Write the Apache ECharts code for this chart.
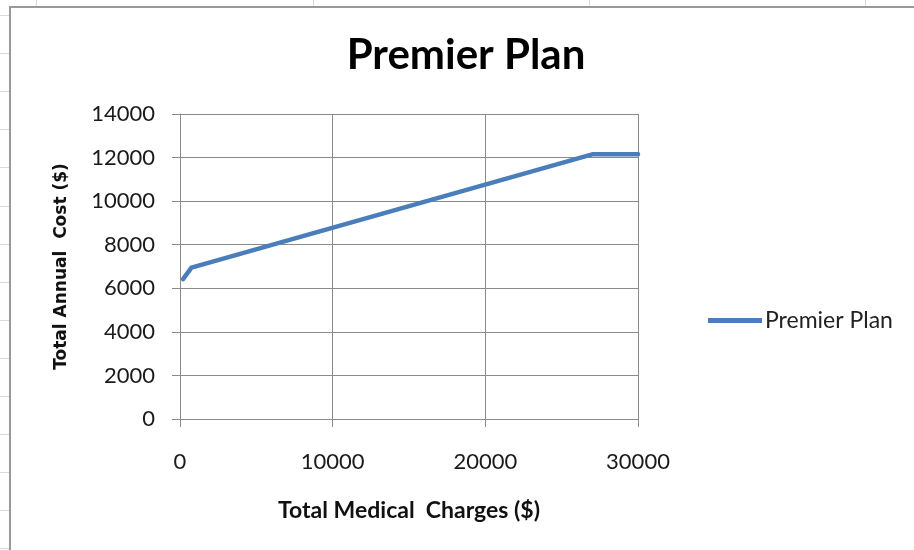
<!DOCTYPE html>
<html>
<head>
<meta charset="utf-8">
<title>Premier Plan</title>
<script src="https://cdn.jsdelivr.net/npm/echarts@6/dist/echarts.min.js"></script>
<style>
  html, body { margin: 0; padding: 0; background: #ffffff; }
  #chart { width: 914px; height: 550px; }
</style>
</head>
<body>
<div id="chart"></div>
<script>
// Total medical charges ($) and the matching total annual cost ($) for the plan
const charges = [200, 750, 27000, 30000];
const annualCost = [6420, 6950, 12150, 12150];

const seriesName = 'Premier Plan';
const chartTitle = 'Premier Plan';
const xTitle = 'Total Medical  Charges ($)';
const yTitle = 'Total Annual  Cost ($)';

const xTicks = { min: 0, max: 30000, interval: 10000 };
const yTicks = { min: 0, max: 14000, interval: 2000 };

const points = charges.map((c, i) => [c, annualCost[i]]);

// worksheet cells around the embedded chart
const sheetLine = '#d4dae6';
const sheetDecor = [];
[36, 313, 589, 865].forEach(x => {
  sheetDecor.push({ type: 'line', shape: { x1: x + 0.5, y1: 0, x2: x + 0.5, y2: 7 }, style: { stroke: sheetLine, lineWidth: 1 }, silent: true });
});
for (let y = 15; y < 550; y += 38.1) {
  const yy = Math.round(y) + 0.5;
  sheetDecor.push({ type: 'line', shape: { x1: 0, y1: yy, x2: 9, y2: yy }, style: { stroke: sheetLine, lineWidth: 1 }, silent: true });
}
// chart frame
sheetDecor.push({ type: 'rect', shape: { x: 10, y: 7, width: 1000, height: 600 }, style: { fill: null, stroke: '#999999', lineWidth: 2 }, silent: true });

const plainNumber = v => String(v);

const chart = echarts.init(document.getElementById('chart'), null, { renderer: 'canvas' });
chart.setOption({
  animation: false,
  backgroundColor: '#ffffff',
  title: {
    text: chartTitle,
    left: 461,
    top: 29,
    textAlign: 'center',
    textStyle: { fontFamily: 'Lato', fontWeight: 'bold', fontSize: 42, color: '#000000' }
  },
  legend: {
    data: [seriesName],
    left: 703,
    top: 304,
    itemWidth: 54,
    itemHeight: 5,
    itemGap: 4,
    icon: 'rect',
    textStyle: { fontFamily: 'Lato', fontSize: 23, color: '#222222', padding: [0, 0, 0, -2] }
  },
  grid: { left: 180, right: 276, top: 114, bottom: 131, containLabel: false },
  xAxis: {
    type: 'value',
    min: xTicks.min, max: xTicks.max, interval: xTicks.interval,
    name: xTitle,
    nameLocation: 'middle',
    nameGap: 80,
    nameTextStyle: { fontFamily: 'Lato', fontWeight: 'bold', fontSize: 23, color: '#111111' },
    axisLine: { show: true, lineStyle: { color: '#8a8a8a', width: 1 } },
    axisTick: { show: true, inside: false, length: 8, lineStyle: { color: '#8a8a8a' } },
    axisLabel: { margin: 32, fontFamily: 'Lato', fontSize: 22, color: '#1a1a1a', formatter: plainNumber },
    splitLine: { show: true, lineStyle: { color: '#8a8a8a', width: 1 } }
  },
  yAxis: {
    type: 'value',
    min: yTicks.min, max: yTicks.max, interval: yTicks.interval,
    name: yTitle,
    nameLocation: 'middle',
    nameGap: 110,
    nameTextStyle: { fontFamily: 'DejaVu Sans', fontWeight: 'bold', fontSize: 17, color: '#111111' },
    axisLine: { show: true, lineStyle: { color: '#8a8a8a', width: 1 } },
    axisTick: { show: true, inside: false, length: 8, lineStyle: { color: '#8a8a8a' } },
    axisLabel: { margin: 25, fontFamily: 'Lato', fontSize: 22, color: '#1a1a1a', formatter: plainNumber },
    splitLine: { show: true, lineStyle: { color: '#8a8a8a', width: 1 } }
  },
  series: [{
    name: seriesName,
    type: 'line',
    data: points,
    showSymbol: false,
    symbol: 'none',
    lineStyle: { color: '#4a7ebb', width: 4.5, cap: 'round', join: 'round' },
    itemStyle: { color: '#4a7ebb' }
  }],
  graphic: sheetDecor
});
</script>
</body>
</html>
